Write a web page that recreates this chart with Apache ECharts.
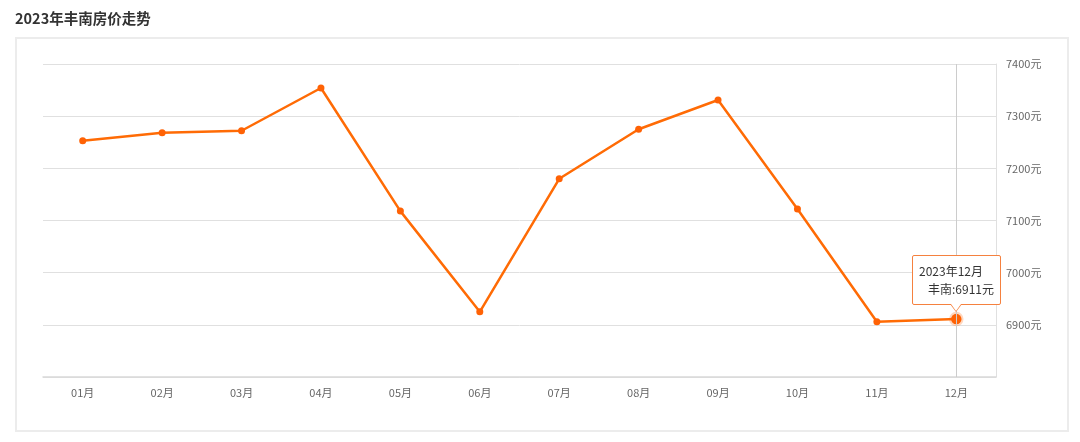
<!DOCTYPE html>
<html><head><meta charset="utf-8">
<script src="https://cdn.jsdelivr.net/npm/echarts@6/dist/echarts.min.js"></script>
<style>html,body{margin:0;padding:0;background:#fff}#c{width:1080px;height:442px}</style>
</head><body><div id="c"></div>
<script>
const months = ['01月','02月','03月','04月','05月','06月','07月','08月','09月','10月','11月','12月'];
const prices = [7253, 7268, 7272, 7354, 7118, 6925, 7180, 7275, 7331, 7122, 6906, 6911];
const seriesName = '丰南';
const yearLabel = '2023年';
const titleText = '2023年丰南房价走势';

const FONT = '"Noto Sans CJK SC", "Noto Sans", sans-serif';
const chart = echarts.init(document.getElementById('c'));
const tipIndex = 11;
const TIP = '#f5813f';
chart.setOption({
  animation: false,
  textStyle: { fontFamily: FONT },
  title: { text: titleText, left: 10, top: 6, textStyle: { fontSize: 14.5, fontWeight: 'bold', color: '#333', fontFamily: FONT } },
  graphic: [{ type: 'rect', shape: { x: 16, y: 38, width: 1052, height: 393 }, style: { fill: 'none', stroke: '#ececec', lineWidth: 2 }, silent: true, z: -1 }],
  grid: { left: 43, right: 84, top: 64, bottom: 65 },
  tooltip: {
    trigger: 'axis',
    alwaysShowContent: true,
    backgroundColor: 'transparent',
    borderWidth: 0,
    padding: 0,
    textStyle: { color: '#333', fontSize: 12, fontFamily: FONT },
    extraCssText: 'box-shadow:none;',
    axisPointer: { type: 'line', lineStyle: { color: '#ccc', width: 1, type: 'solid' } },
    position: function (pt, params, dom, rect, size) {
      const p = chart.convertToPixel({ seriesIndex: 0 }, [tipIndex, prices[tipIndex]]);
      return [p[0] - size.contentSize[0] / 2, p[1] - size.contentSize[1] - 7];
    },
    formatter: function (params) {
      const p = params[0];
      return '<div style="position:relative;padding-bottom:7px">' +
        '<div style="background:#fff;border:1px solid ' + TIP + ';border-radius:2px;padding:6px 6px;line-height:18px;color:#333">' +
        '<div style="padding-right:10px">' + yearLabel + p.name + '</div>' +
        '<div style="padding-left:9px">' + seriesName + ':' + p.value + '元</div>' +
        '</div>' +
        '<div style="position:absolute;left:50%;bottom:0;margin-left:-6px;width:0;height:0;border-left:6px solid transparent;border-right:6px solid transparent;border-top:8px solid ' + TIP + '"></div>' +
        '<div style="position:absolute;left:50%;bottom:1.5px;margin-left:-5px;width:0;height:0;border-left:5px solid transparent;border-right:5px solid transparent;border-top:7px solid #fff"></div>' +
        '</div>';
    }
  },
  xAxis: {
    type: 'category',
    data: months,
    boundaryGap: true,
    axisLine: { lineStyle: { color: '#d9d9d9', width: 1.5 } },
    axisTick: { alignWithLabel: true, length: 4, lineStyle: { color: '#d9d9d9' } },
    axisLabel: { color: '#666', fontSize: 11, margin: 10 },
    splitLine: { show: false }
  },
  yAxis: {
    type: 'value',
    position: 'right',
    min: 6800, max: 7400, interval: 100,
    axisLine: { show: true, lineStyle: { color: '#e0e0e0' } },
    axisTick: { show: false },
    axisLabel: { color: '#666', fontSize: 11, margin: 10, showMinLabel: false,
      formatter: function (v) { return v + '元'; } },
    splitLine: { lineStyle: { color: '#e0e0e0' } }
  },
  series: [{
    name: seriesName,
    type: 'line',
    data: prices,
    symbol: 'circle',
    symbolSize: 7,
    lineStyle: { color: '#ff6205', width: 2.5 },
    itemStyle: { color: '#ff6205' },
    emphasis: { scale: 1.5, itemStyle: { color: '#ff6205', borderColor: 'rgba(255,98,5,0.25)', borderWidth: 4 } }
  }]
});
chart.dispatchAction({ type: 'showTip', seriesIndex: 0, dataIndex: tipIndex });
chart.dispatchAction({ type: 'highlight', seriesIndex: 0, dataIndex: tipIndex });
</script></body></html>
